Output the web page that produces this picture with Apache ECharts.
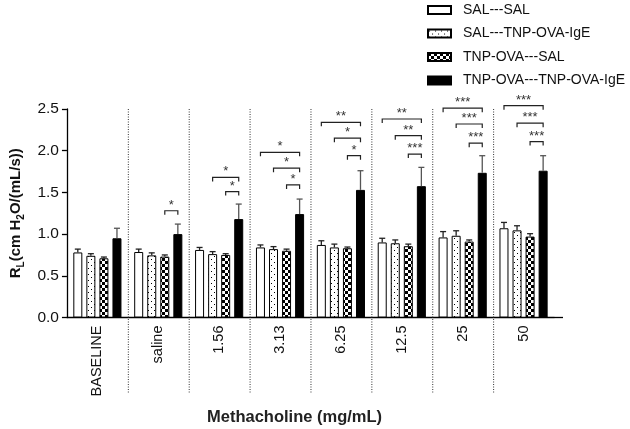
<!DOCTYPE html>
<html>
<head>
<meta charset="utf-8">
<script src="https://cdn.jsdelivr.net/npm/echarts@6/dist/echarts.min.js"></script>
<style>html,body{margin:0;padding:0;background:#fff}#c{width:630px;height:429px}</style>
</head>
<body>
<div id="c"></div>
<script>
const categories = ['BASELINE', 'saline', '1.56', '3.13', '6.25', '12.5', '25', '50'];
const seriesNames = ['SAL---SAL', 'SAL---TNP-OVA-IgE', 'TNP-OVA---SAL', 'TNP-OVA---TNP-OVA-IgE'];
const salSal = [0.78, 0.785, 0.81, 0.84, 0.87, 0.90, 0.96, 1.07];
const salSalErr = [0.04, 0.035, 0.03, 0.03, 0.05, 0.05, 0.07, 0.07];
const salTnp = [0.74, 0.745, 0.76, 0.82, 0.84, 0.89, 0.98, 1.045];
const salTnpErr = [0.025, 0.03, 0.03, 0.03, 0.04, 0.04, 0.06, 0.055];
const tnpSal = [0.71, 0.73, 0.75, 0.80, 0.83, 0.855, 0.91, 0.97];
const tnpSalErr = [0.015, 0.02, 0.015, 0.02, 0.015, 0.025, 0.02, 0.035];
const tnpTnp = [0.95, 1.00, 1.18, 1.24, 1.53, 1.575, 1.735, 1.76];
const tnpTnpErr = [0.12, 0.12, 0.18, 0.18, 0.23, 0.225, 0.205, 0.18];
const yTicks = [0, 0.5, 1.0, 1.5, 2.0, 2.5];
// significance brackets: [category index, from bar, to bar, y level, label]
const brackets = [
  [1, 2, 3, 1.28, '*'],
  [2, 1, 3, 1.68, '*'], [2, 2, 3, 1.51, '*'],
  [3, 0, 3, 1.98, '*'], [3, 1, 3, 1.79, '*'], [3, 2, 3, 1.59, '*'],
  [4, 0, 3, 2.34, '**'], [4, 1, 3, 2.15, '*'], [4, 2, 3, 1.94, '*'],
  [5, 0, 3, 2.38, '**'], [5, 1, 3, 2.18, '**'], [5, 2, 3, 1.96, '***'],
  [6, 0, 3, 2.51, '***'], [6, 1, 3, 2.32, '***'], [6, 2, 3, 2.09, '***'],
  [7, 0, 3, 2.54, '***'], [7, 1, 3, 2.33, '***'], [7, 2, 3, 2.11, '***']
];

const BAR_W = 9, BAR_GAP = 0.45;
const STEP = BAR_W * (1 + BAR_GAP);
const FONT = '"Liberation Sans", Arial, sans-serif';

function makePattern(draw, w, h) {
  const c = document.createElement('canvas');
  c.width = w; c.height = h;
  const g = c.getContext('2d');
  g.fillStyle = '#fff'; g.fillRect(0, 0, w, h);
  g.fillStyle = '#000';
  draw(g);
  return { image: c, repeat: 'repeat' };
}
const dotPattern = makePattern(g => { g.fillRect(1, 1, 1, 1); g.fillRect(4, 4, 1, 1); }, 6, 6);
const checkPattern = makePattern(g => { g.fillRect(0, 0, 3, 3); g.fillRect(3, 3, 3, 3); }, 6, 6);

const values = [salSal, salTnp, tnpSal, tnpTnp];
const errs = [salSalErr, salTnpErr, tnpSalErr, tnpTnpErr];
const fills = ['#fff', dotPattern, checkPattern, '#000'];

const barSeries = seriesNames.map((n, k) => ({
  name: n, type: 'bar', data: values[k], barWidth: BAR_W, barGap: (BAR_GAP * 100) + '%',
  itemStyle: { color: fills[k], borderColor: '#000', borderWidth: 1 },
  emphasis: { disabled: true }, z: 2
}));

const errData = [];
values.forEach((arr, k) => arr.forEach((v, i) => errData.push([i, v, errs[k][i], k])));

const errSeries = {
  type: 'custom', data: errData, clip: false, z: 3, silent: true,
  renderItem: (params, api) => {
    const i = api.value(0), v = api.value(1), e = api.value(2), k = api.value(3);
    const p0 = api.coord([i, v]);
    const p1 = api.coord([i, v + e]);
    const x = p0[0] + (k - 1.5) * STEP;
    const col = k === 3 ? '#555' : '#222';
    return { type: 'group', children: [
      { type: 'line', shape: { x1: x, y1: p0[1], x2: x, y2: p1[1] }, style: { stroke: col, lineWidth: 1.3 } },
      { type: 'line', shape: { x1: x - 3, y1: p1[1], x2: x + 3, y2: p1[1] }, style: { stroke: col, lineWidth: 1.3 } }
    ]};
  }
};

const brSeries = {
  type: 'custom', data: brackets.map(b => [b[0], b[3], b[1], b[2]]), clip: false, z: 4, silent: true,
  renderItem: (params, api) => {
    const d = brackets[params.dataIndex];
    const p = api.coord([d[0], d[3]]);
    const xa = p[0] + (d[1] - 1.5) * STEP, xb = p[0] + (d[2] - 1.5) * STEP;
    const y = p[1];
    return { type: 'group', children: [
      { type: 'polyline', shape: { points: [[xa, y + 4], [xa, y], [xb, y], [xb, y + 4]] }, style: { stroke: '#222', lineWidth: 1.2, fill: null } },
      { type: 'text', x: (xa + xb) / 2, y: y + 1, style: { text: d[4], font: '13px ' + FONT, fill: '#333', textAlign: 'center', textVerticalAlign: 'bottom' } }
    ]};
  }
};

const sepSeries = {
  type: 'custom', data: [[1], [2], [3], [4], [5], [6], [7], [8]], clip: false, z: 1, silent: true,
  renderItem: (params, api) => {
    const i = api.value(0);
    const w = api.size([1, 0])[0];
    const x = api.coord([i, 0])[0] - w / 2;
    const yTop = api.coord([0, 2.5])[1];
    const y0 = api.coord([0, 0])[1];
    if (i === 8) {
      return { type: 'line', shape: { x1: x, y1: y0, x2: x + 9, y2: y0 }, style: { stroke: '#000', lineWidth: 1.3 } };
    }
    return { type: 'line', shape: { x1: x + 0.5, y1: yTop, x2: x + 0.5, y2: y0 + 75 }, style: { stroke: '#333', lineWidth: 1, lineDash: [1, 1.5] } };
  }
};

const chart = echarts.init(document.getElementById('c'), null, { renderer: 'canvas' });
chart.setOption({
  animation: false,
  backgroundColor: '#fff',
  textStyle: { fontFamily: FONT },
  grid: { left: 61, right: 76, top: 109, bottom: 111.5, containLabel: false },
  legend: {
    data: seriesNames, orient: 'vertical', left: 422, top: -2,
    itemWidth: 23, itemHeight: 8, itemGap: 9.5, icon: 'rect',
    textStyle: { fontSize: 14, color: '#111', fontFamily: FONT, padding: [0, 0, 0, 7] },
    selectedMode: false
  },
  xAxis: {
    type: 'category', data: categories,
    axisLine: { lineStyle: { color: '#000', width: 1.3 } },
    axisTick: { alignWithLabel: true, length: 5, lineStyle: { color: '#000', width: 1.3 } },
    axisLabel: { rotate: 90, margin: 8, fontSize: 14.5, color: '#111', fontFamily: FONT, interval: 0 },
    splitLine: { show: false }
  },
  yAxis: {
    type: 'value', min: 0, max: 2.5, interval: 0.5,
    axisLine: { show: true, lineStyle: { color: '#000', width: 1.3 } },
    axisTick: { show: true, length: 5, lineStyle: { color: '#000', width: 1.3 } },
    axisLabel: { margin: 8, fontSize: 15.5, color: '#111', fontFamily: FONT,
      formatter: v => (yTicks.indexOf(v) >= 0 ? v.toFixed(1) : '') },
    splitLine: { show: false },
    name: '{b|R}{s|L}{b|(cm H}{s|2}{b|O/(mL/s))}',
    nameLocation: 'middle', nameGap: 38, nameRotate: 90,
    nameTextStyle: {
      rich: {
        b: { fontSize: 15, fontWeight: 'bold', color: '#111', fontFamily: FONT, lineHeight: 22, verticalAlign: 'middle' },
        s: { fontSize: 10, fontWeight: 'bold', color: '#111', fontFamily: FONT, lineHeight: 22, verticalAlign: 'bottom' }
      }
    }
  },
  graphic: [{
    type: 'text', left: 207, top: 409,
    style: { text: 'Methacholine (mg/mL)', font: 'bold 16.5px ' + FONT, fill: '#222' }
  }],
  series: [...barSeries, errSeries, brSeries, sepSeries]
});
</script>
</body>
</html>
